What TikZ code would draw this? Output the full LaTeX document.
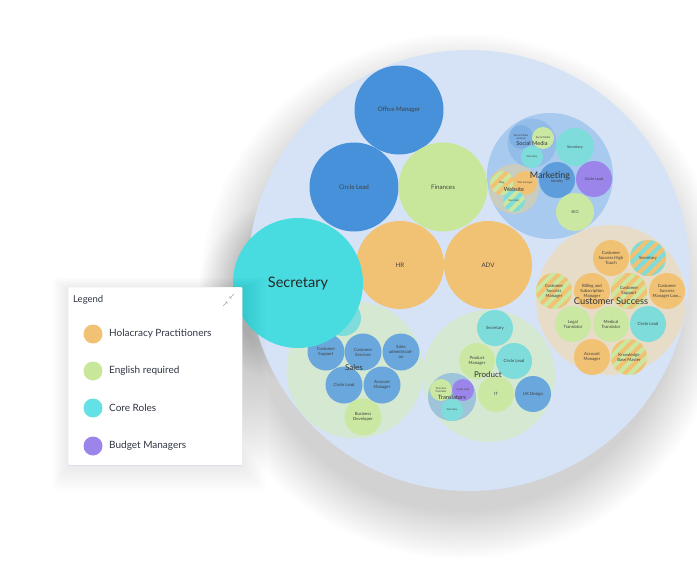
\documentclass[tikz,border=0pt]{standalone}
\usepackage{fontspec}
\setmainfont{Lato}
\usetikzlibrary{arrows.meta}
\definecolor{bigbg}{HTML}{D6E3F6}
\definecolor{cblue}{HTML}{4691DA}
\definecolor{sblue}{HTML}{6AA7DC}
\definecolor{idblue}{HTML}{5E9DDB}
\definecolor{smblue}{HTML}{7FB0E4}
\definecolor{cgreen}{HTML}{C8E79B}
\definecolor{lgreen}{HTML}{CBE8A3}
\definecolor{corange}{HTML}{F2C274}
\definecolor{ccyan}{HTML}{48DCE0}
\definecolor{lcyan}{HTML}{7EDDDB}
\definecolor{cpurple}{HTML}{9C85EA}
\definecolor{mktbg}{HTML}{A8CAEE}
\definecolor{smbg}{HTML}{93BCE9}
\definecolor{webbg}{HTML}{C9CDBF}
\definecolor{csbg}{HTML}{E6DCC8}
\definecolor{grbg}{HTML}{D4E8D2}
\definecolor{trbg}{HTML}{9DC4D8}
\definecolor{txt}{HTML}{404040}
\definecolor{legtxt}{HTML}{2F3542}
\definecolor{legborder}{HTML}{ECECEC}
\definecolor{legline}{HTML}{DCDDF0}
\tikzset{
  bub/.style={circle, draw=none, inner sep=0pt, align=center, text=txt, font=\fontsize{4.3}{5}\selectfont},
  tiny/.style={font=\fontsize{2.6}{3}\selectfont},
  mid/.style={font=\fontsize{6.2}{7}\selectfont},
  grp/.style={inner sep=0pt, text=black!80},
  stripes/.style 2 args={fill=#1, path picture={
    \foreach \s in {-48,-36,...,48}
      \draw[#2, line width=4.2pt] ([xshift=\s*1pt]path picture bounding box.center) ++(-30pt,-30pt) -- ++(60pt,60pt);
  }},
  legdot/.style={circle, inner sep=0pt, minimum size=19pt},
  legitem/.style={anchor=west, inner sep=0pt, text=legtxt, font=\fontsize{10}{12}\selectfont},
}
\begin{document}
\begin{tikzpicture}[x=1pt,y=-1pt]
\useasboundingbox (0,0) rectangle (697,570);
\fill[white] (0,0) rectangle (697,570);
% soft shadows
\foreach \k in {1,...,45} \fill[black, opacity=0.0035] (462,296) circle ({214+1.1*\k});
\foreach \k in {1,...,25} \fill[black, opacity=0.004] (292,290) circle ({62+1.2*\k});
% big circle
\node[circle, fill=bigbg, inner sep=0pt, minimum size=441pt] (big) at (469,270.5) {};
% Customer Success
\node[bub, fill=csbg, minimum size=150pt] (cs) at (611,300) {};
\node[bub, fill=corange, minimum size=36pt] (cs1) at (611,258) {Customer\\Success High\\Touch};
\node[bub, stripes={corange}{lcyan}, minimum size=36pt] (cs2) at (648,258) {Secretary};
\node[bub, stripes={lgreen}{corange}, minimum size=36pt] (cs3) at (554,291) {Customer\\Success\\Manager};
\node[bub, fill=corange, minimum size=36pt] (cs4) at (592,291) {Billing and\\Subscription\\Manager};
\node[bub, stripes={corange}{lgreen}, minimum size=36pt] (cs5) at (629,291) {Customer\\Support};
\node[bub, fill=corange, minimum size=36pt] (cs6) at (667,291) {Customer\\Success\\Manager Low...};
\node[bub, fill=lgreen, minimum size=36pt] (cs7) at (573,324) {Legal\\Translator};
\node[bub, fill=lgreen, minimum size=36pt] (cs8) at (611,324) {Medical\\Translator};
\node[bub, fill=lcyan, minimum size=36pt] (cs9) at (648,324) {Circle Lead};
\node[bub, fill=corange, minimum size=36pt] (cs10) at (592,357) {Account\\Manager};
\node[bub, stripes={lgreen}{corange}, minimum size=36pt] (cs11) at (629,357) {Knowledge\\Base Master};
\node[grp, font=\fontsize{9.3}{11}\selectfont] (cslbl) at (611,301) {Customer Success};
% Marketing
\node[bub, fill=mktbg, minimum size=126pt] (mkt) at (550,176) {};
\node[bub, fill=smbg, minimum size=49pt] (sm) at (532,143) {};
\node[bub, tiny, fill=smblue, minimum size=24pt] (sma) at (521,137) {Social Media\\Analysis};
\node[bub, tiny, fill=lgreen, minimum size=22pt] (smm) at (543,138) {Social Media};
\node[bub, tiny, fill=lcyan, minimum size=22pt] (sms) at (532,157) {Secretary};
\node[bub, fill=lcyan, minimum size=38pt, font=\fontsize{3.8}{4.5}\selectfont] (msec) at (575,147) {Secretary};
\node[bub, fill=idblue, minimum size=36pt, font=\fontsize{3.6}{4}\selectfont] (mid) at (557,180) {\\[1pt]Identity};
\node[bub, fill=cpurple, minimum size=36pt, font=\fontsize{3.8}{4.5}\selectfont] (mcl) at (594,179) {Circle Lead};
\node[bub, fill=lgreen, minimum size=38pt, font=\fontsize{3.8}{4.5}\selectfont] (seo) at (575,212) {SEO};
\node[bub, fill=webbg, minimum size=50pt] (web) at (514,189) {};
\node[bub, tiny, stripes={corange}{lgreen}, minimum size=24pt] (blog) at (502,183) {Blog};
\node[bub, tiny, fill=corange, minimum size=24pt] (tm) at (525,183) {Text manager};
\node[bub, tiny, stripes={lgreen}{lcyan}, minimum size=22pt] (wsec) at (514,201) {Secretary};
\node[grp, font=\fontsize{5.6}{6}\selectfont] (smlbl) at (532,143) {Social Media};
\node[grp, font=\fontsize{5.6}{6}\selectfont] (weblbl) at (514,189) {Website};
\node[grp, font=\fontsize{9}{10}\selectfont] (mktlbl) at (550,176) {Marketing};
% Product
\node[bub, fill=grbg, minimum size=132pt] (prod) at (489,376) {};
\node[bub, fill=lcyan, minimum size=36pt] (p1) at (495,328) {Secretary};
\node[bub, fill=lgreen, minimum size=36pt] (p2) at (477,361) {Product\\Manager};
\node[bub, fill=lcyan, minimum size=36pt] (p3) at (514,361) {Circle Lead};
\node[bub, fill=lgreen, minimum size=36pt] (p4) at (496,394) {IT};
\node[bub, fill=sblue, minimum size=36pt] (p5) at (533,394) {UX Design};
\node[bub, fill=trbg, minimum size=48pt] (tr) at (452,397) {};
\node[bub, tiny, fill=lgreen, minimum size=22pt] (tr1) at (441,390) {Technical\\Translator};
\node[bub, tiny, fill=cpurple, minimum size=22pt] (tr2) at (463,390) {Circle Lead};
\node[bub, tiny, fill=lcyan, minimum size=22pt] (tr3) at (452,410) {Secretary};
\node[grp, font=\fontsize{5.8}{6}\selectfont] (trlbl) at (452,397) {Translators};
\node[grp, font=\fontsize{8}{9}\selectfont] (prodlbl) at (488,375) {Product};
% Sales
\node[bub, fill=grbg, minimum size=137pt] (sales) at (355,370) {};
\node[bub, fill=lcyan, minimum size=36pt] (s0) at (343,318) {Secretary};
\node[bub, fill=sblue, minimum size=37pt] (s1) at (326,352) {Customer\\Support};
\node[bub, fill=sblue, minimum size=37pt] (s2) at (363,352) {Customer\\Services};
\node[bub, fill=sblue, minimum size=37pt] (s3) at (401,352) {Sales\\administrati-\\on};
\node[bub, fill=sblue, minimum size=37pt] (s4) at (344,385) {Circle Lead};
\node[bub, fill=sblue, minimum size=37pt] (s5) at (382,385) {Account\\Manager};
\node[bub, fill=lgreen, minimum size=37pt] (s6) at (363,417) {Business\\Developer};
\node[grp, font=\fontsize{8}{9}\selectfont] (saleslbl) at (354,368) {Sales};
% main circles
\node[bub, mid, fill=cblue, minimum size=89pt] (om) at (399,110) {Office Manager};
\node[bub, mid, fill=cblue, minimum size=89pt] (cl) at (354,187) {Circle Lead};
\node[bub, mid, fill=cgreen, minimum size=89pt] (fin) at (443,187) {Finances};
\node[bub, mid, fill=corange, minimum size=88pt] (hr) at (400,265) {HR};
\node[bub, mid, fill=corange, minimum size=88pt] (adv) at (488,265) {ADV};
\node[bub, fill=ccyan, minimum size=130pt, text=black!85, font=\fontsize{14.5}{16}\selectfont] (sec) at (298,283) {Secretary};
% legend
\foreach \k in {1,...,20} \fill[black, opacity=0.0035, rounded corners=3pt] ({68-0.8*\k},{289-0.6*\k}) rectangle ({242+1.2*\k},{466+1.3*\k});
\node[draw=legborder, fill=white, minimum width=174pt, minimum height=178pt, anchor=north west, inner sep=0pt, rounded corners=1pt] (legend) at (68,287) {};
\draw[legline, line width=1.4pt] ([xshift=1pt]legend.south west) -- ([xshift=-1pt]legend.south east);
\node[anchor=west, inner sep=0pt, text=legtxt, font=\fontsize{9.5}{11}\selectfont] (legtitle) at (73,300) {Legend};
\coordinate (ic1) at (234,294);
\coordinate (ic2) at (229.5,298.5);
\coordinate (ic3) at (223,306);
\coordinate (ic4) at (227.5,301.5);
\draw[gray!70, line width=0.5pt, -{Straight Barb[length=1.6pt,width=2.6pt]}] (ic1) -- (ic2);
\draw[gray!70, line width=0.5pt, -{Straight Barb[length=1.6pt,width=2.6pt]}] (ic3) -- (ic4);
\node[legdot, fill=corange] (ld1) at (93,334) {};
\node[legdot, fill=cgreen] (ld2) at (93,371) {};
\node[legdot, fill=ccyan!85!white] (ld3) at (93,408) {};
\node[legdot, fill=cpurple] (ld4) at (93,446) {};
\node[legitem] (lt1) at (109,334) {Holacracy Practitioners};
\node[legitem] (lt2) at (109,371) {English required};
\node[legitem] (lt3) at (109,408) {Core Roles};
\node[legitem] (lt4) at (109,446) {Budget Managers};
\end{tikzpicture}
\end{document}
